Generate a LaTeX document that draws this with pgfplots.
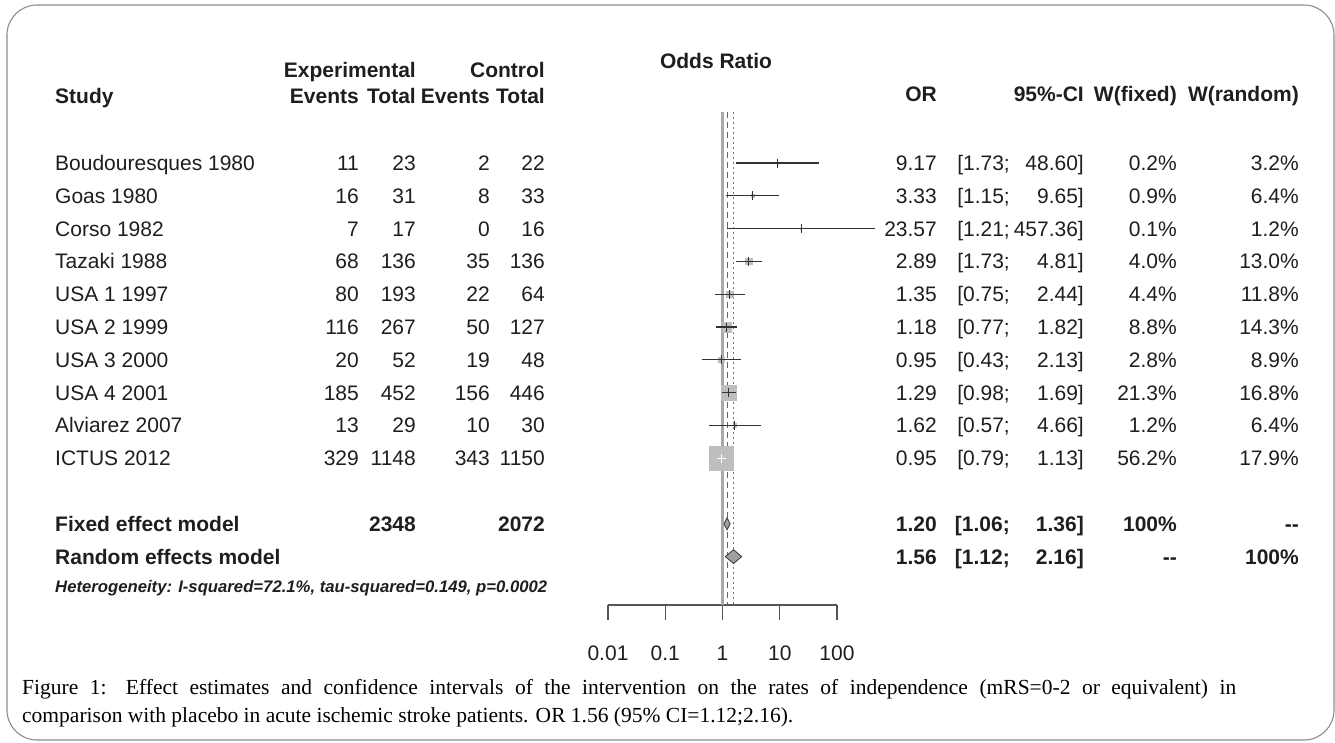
\documentclass[border=0pt]{standalone}
\usepackage{fontspec}
\setmainfont{Liberation Sans}
\newfontfamily\capfont{Liberation Serif}
\usepackage{pgfplots}
\pgfplotsset{compat=1.18}
\usepackage{pgfplotstable}

\definecolor{sqgray}{HTML}{BEBEBE}
\definecolor{refgray}{HTML}{A8A8A8}
\definecolor{axgray}{HTML}{555555}
\definecolor{txt}{HTML}{1E1E1E}
\definecolor{framegray}{HTML}{8C8C8C}

% row = position from top, or = odds ratio, lo/hi = 95% CI, wf = fixed weight (%)
\pgfplotstableread{
row  or     lo    hi      wf
1    9.17   1.73  48.60   0.2
2    3.33   1.15  9.65    0.9
3    23.57  1.21  457.36  0.1
4    2.89   1.73  4.81    4.0
5    1.35   0.75  2.44    4.4
6    1.18   0.77  1.82    8.8
7    0.95   0.43  2.13    2.8
8    1.29   0.98  1.69    21.3
9    1.62   0.57  4.66    1.2
10   0.95   0.79  1.13    56.2
}\studies

\newcommand\tf{\fontsize{21}{25}\selectfont}
\newcommand\yb[1]{170.5+(#1-1)*32.8}
% left part of a row: row, study, events, total, events, total
\newcommand\lt[6]{%
  \node[anchor=base west] at (55,{\yb{#1}}) {#2};
  \node[anchor=base east] at (359,{\yb{#1}}) {#3};
  \node[anchor=base east] at (416,{\yb{#1}}) {#4};
  \node[anchor=base east] at (490,{\yb{#1}}) {#5};
  \node[anchor=base east] at (545,{\yb{#1}}) {#6};}
% right part of a row: row, OR, lower, upper, W(fixed), W(random)
\newcommand\rt[6]{%
  \node[anchor=base east] at (937,{\yb{#1}}) {#2};
  \node[anchor=base east] at (1010,{\yb{#1}}) {[#3;};
  \node[anchor=base east] at (1084,{\yb{#1}}) {#4]};
  \node[anchor=base east] at (1177,{\yb{#1}}) {#5};
  \node[anchor=base east] at (1299,{\yb{#1}}) {#6};}

\begin{document}
\begin{tikzpicture}
\begin{axis}[
  at={(608pt,-605pt)}, anchor=south west,
  scale only axis, width=229pt, height=493pt,
  xmode=log, xmin=0.01, xmax=100,
  ymin=-0.555, ymax=14.476, y dir=reverse,
  axis y line=none, axis x line*=bottom,
  axis line style={line width=1.6pt, draw=axgray},
  clip=false, clip marker paths=true,
  xtick={0.01,0.1,1,10,100},
  xticklabels={\mbox{0.01},\mbox{0.1},\mbox{1},\mbox{10},\mbox{100}},
  xminorticks=false,
  tick align=outside, major tick length=15pt,
  xtick style={line width=1.4pt, draw=axgray},
  xticklabel style={font=\tf, text=txt, anchor=base, yshift=-40pt},
]
% reference lines: no effect, fixed and random estimates
\addplot[refgray, line width=3pt] coordinates {(1,-0.555) (1,14.476)};
\addplot[black!60, line width=0.9pt, dash pattern=on 6pt off 4pt] coordinates {(1.20,-0.555) (1.20,14.476)};
\addplot[black!55, line width=1.2pt, dash pattern=on 2pt off 3pt] coordinates {(1.56,-0.555) (1.56,14.476)};

% squares sized by fixed weight
\addplot[scatter, only marks, mark=square*,
  scatter/use mapped color={draw=sqgray, fill=sqgray},
  visualization depends on={1.6*sqrt(\thisrow{wf}) \as \msz},
  scatter/@pre marker code/.append style={/tikz/mark size=\msz}]
  table[x=or, y=row] {\studies};

% confidence intervals and point ticks
\addplot[draw=none, mark=none, black,
  error bars/.cd, x dir=both, x explicit, error mark=none,
  error bar style={line width=1.1pt, black!80}]
  table[x=or, y=row, x error plus expr=\thisrow{hi}-\thisrow{or},
        x error minus expr=\thisrow{or}-\thisrow{lo}] {\studies};
\addplot[only marks, mark=|, mark size=4.5pt, black!80, mark options={line width=1pt}]
  table[x=or, y=row] {\studies};
% interval inside the large square drawn white
\addplot[draw=none, mark=none, white,
  error bars/.cd, x dir=both, x explicit, error mark=none,
  error bar style={line width=1.4pt, white}]
  table[x=or, y=row, skip coords between index={0}{9},
        x error plus expr=\thisrow{hi}-\thisrow{or},
        x error minus expr=\thisrow{or}-\thisrow{lo}] {\studies};
\addplot[only marks, mark=|, mark size=4.5pt, white, mark options={line width=1.3pt}]
  table[x=or, y=row, skip coords between index={0}{9}] {\studies};

% pooled estimates
\addplot[fill=gray!75, draw=black!75, line width=0.9pt]
  coordinates {(1.06,12) (1.20,11.82) (1.36,12) (1.20,12.18) (1.06,12)};
\addplot[fill=gray!75, draw=black!75, line width=0.9pt]
  coordinates {(1.12,13) (1.56,12.79) (2.16,13) (1.56,13.21) (1.12,13)};
\end{axis}

\begin{scope}[x=1pt, y=-1pt, every node/.style={inner sep=0pt, font=\tf, text=txt}]
\path[use as bounding box] (0,0) rectangle (1335,742);
\draw[framegray, line width=1.1pt, rounded corners=30pt] (7,5) rectangle (1334,740);

% headers
\node[anchor=base, font=\tf\bfseries] at (716,68) {Odds Ratio};
\node[anchor=base east, font=\tf\bfseries] at (416,77) {Experimental};
\node[anchor=base east, font=\tf\bfseries] at (545,77) {Control};
\node[anchor=base west, font=\tf\bfseries] at (55,103) {Study};
\node[anchor=base east, font=\tf\bfseries] at (359,103) {Events};
\node[anchor=base east, font=\tf\bfseries] at (416,103) {Total};
\node[anchor=base east, font=\tf\bfseries] at (490,103) {Events};
\node[anchor=base east, font=\tf\bfseries] at (545,103) {Total};
\node[anchor=base east, font=\tf\bfseries] at (937,101) {OR};
\node[anchor=base east, font=\tf\bfseries] at (1084,101) {95\%-CI};
\node[anchor=base east, font=\tf\bfseries] at (1177,101) {W(fixed)};
\node[anchor=base east, font=\tf\bfseries] at (1299,101) {W(random)};

% study rows
\lt{1}{Boudouresques 1980}{11}{23}{2}{22}
\lt{2}{Goas 1980}{16}{31}{8}{33}
\lt{3}{Corso 1982}{7}{17}{0}{16}
\lt{4}{Tazaki 1988}{68}{136}{35}{136}
\lt{5}{USA 1 1997}{80}{193}{22}{64}
\lt{6}{USA 2 1999}{116}{267}{50}{127}
\lt{7}{USA 3 2000}{20}{52}{19}{48}
\lt{8}{USA 4 2001}{185}{452}{156}{446}
\lt{9}{Alviarez 2007}{13}{29}{10}{30}
\lt{10}{ICTUS 2012}{329}{1148}{343}{1150}
\rt{1}{9.17}{1.73}{48.60}{0.2\%}{3.2\%}
\rt{2}{3.33}{1.15}{9.65}{0.9\%}{6.4\%}
\rt{3}{23.57}{1.21}{457.36}{0.1\%}{1.2\%}
\rt{4}{2.89}{1.73}{4.81}{4.0\%}{13.0\%}
\rt{5}{1.35}{0.75}{2.44}{4.4\%}{11.8\%}
\rt{6}{1.18}{0.77}{1.82}{8.8\%}{14.3\%}
\rt{7}{0.95}{0.43}{2.13}{2.8\%}{8.9\%}
\rt{8}{1.29}{0.98}{1.69}{21.3\%}{16.8\%}
\rt{9}{1.62}{0.57}{4.66}{1.2\%}{6.4\%}
\rt{10}{0.95}{0.79}{1.13}{56.2\%}{17.9\%}

% pooled rows
\begin{scope}[every node/.style={inner sep=0pt, font=\tf\bfseries, text=txt}]
\lt{12}{Fixed effect model}{}{2348}{}{2072}
\rt{12}{1.20}{1.06}{1.36}{100\%}{-{}-}
\lt{13}{Random effects model}{}{}{}{}
\rt{13}{1.56}{1.12}{2.16}{-{}-}{100\%}
\end{scope}
\node[anchor=base west, font=\fontsize{16.7}{18}\selectfont\bfseries\itshape] at (55,592)
  {Heterogeneity: I-squared=72.1\%, tau-squared=0.149, p=0.0002};

% caption: first line justified to the full width, second line natural
\node[anchor=base west, font=\capfont\fontsize{21.5}{25}\selectfont, text=black] at (22,694)
  {\makebox[1214pt][s]{Figure 1: Effect estimates and confidence intervals of the intervention on the rates of independence (mRS=0-2 or equivalent) in}};
\node[anchor=base west, font=\capfont\fontsize{21.5}{25}\selectfont, text=black] at (22,722)
  {comparison with placebo in acute ischemic stroke patients. OR 1.56 (95\% CI=1.12;2.16).};
\end{scope}
\end{tikzpicture}
\end{document}
